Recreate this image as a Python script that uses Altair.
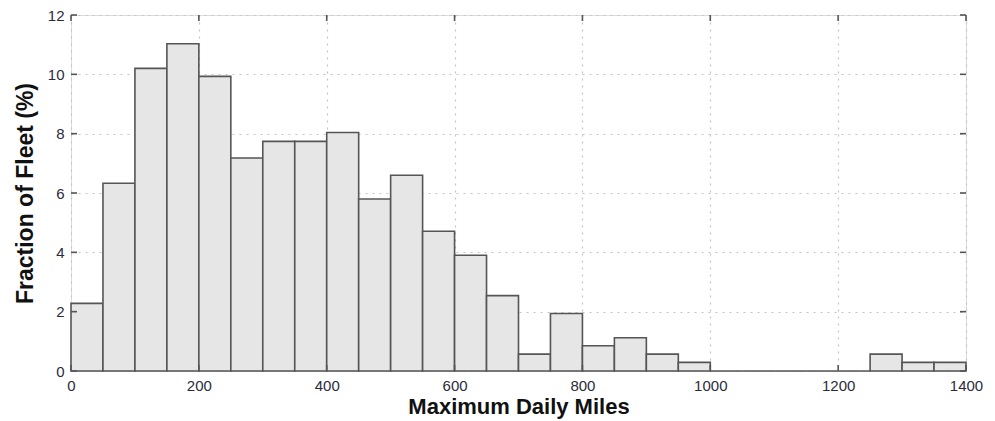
import altair as alt
import pandas as pd

bin_start = [0, 50, 100, 150, 200, 250, 300, 350, 400, 450, 500, 550, 600, 650,
             700, 750, 800, 850, 900, 950, 1000, 1050, 1100, 1150, 1200, 1250, 1300, 1350]
fraction = [2.28, 6.33, 10.2, 11.03, 9.93, 7.18, 7.74, 7.74, 8.04, 5.8, 6.6, 4.71, 3.9, 2.54,
            0.57, 1.94, 0.85, 1.12, 0.57, 0.29, 0, 0, 0, 0, 0, 0.57, 0.29, 0.29]
bin_width = 50
x_ticks = [0, 200, 400, 600, 800, 1000, 1200, 1400]
y_ticks = [0, 2, 4, 6, 8, 10, 12]

W, H = 895, 356

df = pd.DataFrame({"start": bin_start, "frac": fraction})
df["end"] = df["start"] + bin_width
xt = pd.DataFrame({"v": x_ticks})
yt = pd.DataFrame({"v": y_ticks})

xscale = alt.Scale(domain=[0, 1400], nice=False, zero=False)
yscale = alt.Scale(domain=[0, 12], nice=False)

FONT = "Liberation Sans"
LBL = "#2b2b3b"

xaxis = alt.Axis(values=x_ticks, format="d", title="Maximum Daily Miles", grid=True,
                 gridDash=[2, 5], gridColor="#c4c4c4", gridWidth=1.2, ticks=False, domain=False,
                 labelFont=FONT, labelFontSize=15, labelColor=LBL, labelPadding=7,
                 titleFont=FONT, titleFontSize=22, titleFontWeight="bold",
                 titleColor="#111", titlePadding=3, labelFlush=False)
yaxis = alt.Axis(values=y_ticks, format="d", title="Fraction of Fleet (%)", grid=True,
                 gridDash=[2, 5], gridColor="#c4c4c4", gridWidth=1.2, ticks=False, domain=False,
                 labelFont=FONT, labelFontSize=15, labelColor=LBL, labelPadding=7,
                 titleFont=FONT, titleFontSize=23, titleFontWeight="bold",
                 titleColor="#111", titlePadding=10, labelFlush=False)

bars = alt.Chart(df).mark_rect(fill="#e6e6e6", stroke="#555555", strokeWidth=1.6).encode(
    x=alt.X("start:Q", scale=xscale, axis=xaxis),
    x2="end:Q",
    y=alt.Y("frac:Q", scale=yscale, axis=yaxis),
    y2=alt.datum(0),
)

tick_style = dict(color="#555555", strokeWidth=1.6)
xt_bottom = alt.Chart(xt).mark_rule(**tick_style).encode(
    x=alt.X("v:Q", scale=xscale), y=alt.value(H), y2=alt.value(H - 6))
xt_top = alt.Chart(xt).mark_rule(**tick_style).encode(
    x=alt.X("v:Q", scale=xscale), y=alt.value(0), y2=alt.value(6))
yt_left = alt.Chart(yt).mark_rule(**tick_style).encode(
    y=alt.Y("v:Q", scale=yscale), x=alt.value(0), x2=alt.value(6))
yt_right = alt.Chart(yt).mark_rule(**tick_style).encode(
    y=alt.Y("v:Q", scale=yscale), x=alt.value(W), x2=alt.value(W - 6))

chart = alt.layer(bars, xt_bottom, xt_top, yt_left, yt_right).properties(
    width=W, height=H,
    autosize=alt.AutoSizeParams(type="none"),
    padding={"left": 63, "top": 7, "right": 20, "bottom": 50},
).configure_view(stroke="#444444", strokeWidth=2).configure(background="white")

chart.save("out.html", embed_options={"renderer": "svg", "actions": False})
